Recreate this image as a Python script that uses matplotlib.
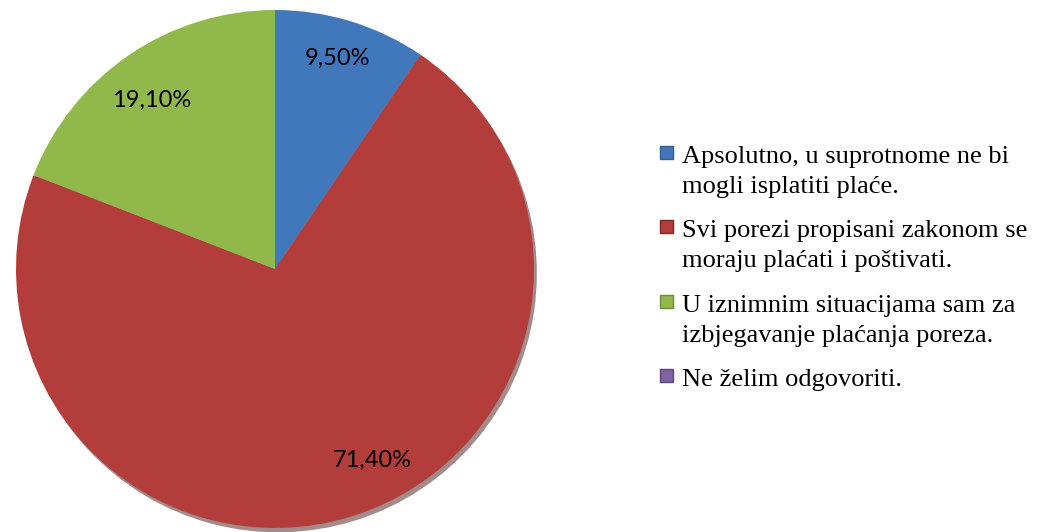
import matplotlib
matplotlib.use('Agg')
import matplotlib.pyplot as plt
from matplotlib.patches import Rectangle

# data
labels = ['Apsolutno, u suprotnome ne bi\nmogli isplatiti plaće.',
          'Svi porezi propisani zakonom se\nmoraju plaćati i poštivati.',
          'U iznimnim situacijama sam za\nizbjegavanje plaćanja poreza.',
          'Ne želim odgovoriti.']
values = [9.5, 71.4, 19.1, 0.0]

# style
colors = ['#4178bb', '#b33d3a', '#91b84b', '#7d61a0']
edge_colors = ['#2f5d94', '#7e2624', '#6f8c38', '#5a4578']
W, H = 1037, 532

fig = plt.figure(figsize=(W / 100, H / 100), dpi=100, facecolor='white')

# pie axes: centre (275, 269) px, radius 259 px
cx, cy, r = 275, 269, 259
ax = fig.add_axes([(cx - r) / W, (H - cy - r) / H, 2 * r / W, 2 * r / H])


def fmt_pct(p):
    if p < 0.05:
        return ''
    return f'{p:.2f}'.replace('.', ',') + '%'


wedges, texts, autotexts = ax.pie(
    values, colors=colors, startangle=90, counterclock=False,
    autopct=fmt_pct, pctdistance=0.83,
    shadow={'ox': 0.008, 'oy': -0.012, 'shade': 0.6},
    wedgeprops=dict(linewidth=0),
    textprops=dict(fontsize=17, family=['Lato', 'DejaVu Sans'], color='#000000'))
ax.set_xlim(-1, 1)
ax.set_ylim(-1, 1)
ax.set_aspect('equal')

# Excel "best fit" label positions
autotexts[0].set_position((0.24, 0.815))
autotexts[1].set_position((0.375, -0.737))
autotexts[2].set_position((-0.475, 0.652))

# legend drawn by hand so the marker sits on the first line
leg_x = 660
text_x = 682
first_baseline = [163, 237, 312, 386]
line_gap = 30
for lab, c, ec, y in zip(labels, colors, edge_colors, first_baseline):
    fig.patches.append(Rectangle((leg_x / W, (H - y + 4) / H), 13 / W, 13 / H,
                                 transform=fig.transFigure, facecolor=c,
                                 edgecolor=ec, linewidth=1))
    for i, line in enumerate(lab.split('\n')):
        fig.text(text_x / W, (H - y - i * line_gap) / H, line,
                 ha='left', va='baseline', fontsize=19,
                 family=['Liberation Serif', 'DejaVu Serif'], color='#000000')

fig.savefig('out.png', dpi=100, facecolor='white')
